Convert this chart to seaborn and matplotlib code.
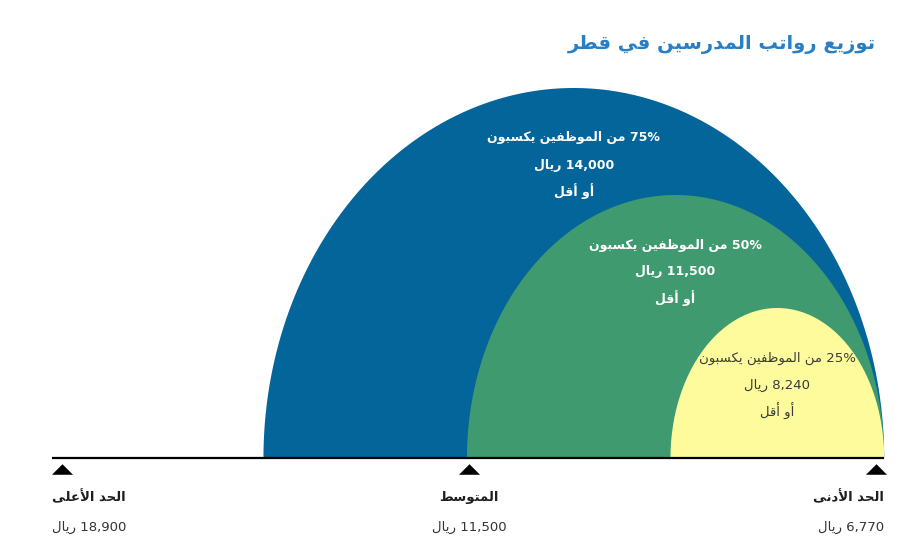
import numpy as np
import pandas as pd
import seaborn as sns
import matplotlib.pyplot as plt

# chart data
title = 'توزيع رواتب المدرسين في قطر'
stat_names = ['max', 'q3', 'median', 'q1', 'min']      # order along the axis, left to right
tick_stats = ['max', 'median', 'min']
tick_labels = ['الحد الأعلى', 'المتوسط', 'الحد الأدنى']
tick_values = [18900, 11500, 6770]
band_stats = ['q3', 'median', 'q1']
band_pcts = [75, 50, 25]
band_values = [14000, 11500, 8240]
band_colors = ['#03659a', '#3f9a6f', '#fdfb9c']
band_text_colors = ['white', 'white', '#3a3a3a']
band_heights = [370, 263, 150]   # px, drawing only

# --- minimal arabic shaping (no bidi lib available) ---
FORMS = {
    'ا': ('\uFE8D', '\uFE8E', None, None), 'أ': ('\uFE83', '\uFE84', None, None),
    'ب': ('\uFE8F', '\uFE90', '\uFE91', '\uFE92'), 'ت': ('\uFE95', '\uFE96', '\uFE97', '\uFE98'),
    'ح': ('\uFEA1', '\uFEA2', '\uFEA3', '\uFEA4'), 'د': ('\uFEA9', '\uFEAA', None, None),
    'ر': ('\uFEAD', '\uFEAE', None, None), 'ز': ('\uFEAF', '\uFEB0', None, None),
    'س': ('\uFEB1', '\uFEB2', '\uFEB3', '\uFEB4'), 'ط': ('\uFEC1', '\uFEC2', '\uFEC3', '\uFEC4'),
    'ظ': ('\uFEC5', '\uFEC6', '\uFEC7', '\uFEC8'), 'ع': ('\uFEC9', '\uFECA', '\uFECB', '\uFECC'),
    'ف': ('\uFED1', '\uFED2', '\uFED3', '\uFED4'), 'ق': ('\uFED5', '\uFED6', '\uFED7', '\uFED8'),
    'ك': ('\uFED9', '\uFEDA', '\uFEDB', '\uFEDC'), 'ل': ('\uFEDD', '\uFEDE', '\uFEDF', '\uFEE0'),
    'م': ('\uFEE1', '\uFEE2', '\uFEE3', '\uFEE4'), 'ن': ('\uFEE5', '\uFEE6', '\uFEE7', '\uFEE8'),
    'و': ('\uFEED', '\uFEEE', None, None), 'ى': ('\uFEEF', '\uFEF0', None, None),
    'ي': ('\uFEF1', '\uFEF2', '\uFEF3', '\uFEF4'),
}
LAMALEF = {'ا': ('\uFEFB', '\uFEFC'), 'أ': ('\uFEF7', '\uFEF8')}


def shape(word):
    out = []
    i = 0
    n = len(word)
    while i < n:
        c = word[i]
        if c not in FORMS:
            out.append(c)
            i += 1
            continue
        prev = word[i - 1] if i > 0 else None
        joins_prev = prev in FORMS and FORMS[prev][2] is not None
        if c == 'ل' and i + 1 < n and word[i + 1] in LAMALEF:
            iso, fin = LAMALEF[word[i + 1]]
            out.append(fin if joins_prev else iso)
            i += 2
            continue
        nxt = word[i + 1] if i + 1 < n else None
        iso, fin, ini, med = FORMS[c]
        joins_next = ini is not None and nxt in FORMS
        if joins_prev and joins_next:
            out.append(med)
        elif joins_prev:
            out.append(fin)
        elif joins_next:
            out.append(ini)
        else:
            out.append(iso)
        i += 1
    return ''.join(out)


def ar(text):
    vis = []
    for w in reversed(text.split(' ')):
        if any(ch in FORMS for ch in w):
            vis.append(shape(w)[::-1])
        else:
            vis.append(w)
    return ' '.join(vis)


pos = {s: i for i, s in enumerate(stat_names)}
right_end = pos['min'] + 0.04

sns.set_theme(style='white')
plt.rcParams['font.family'] = ['DejaVu Sans']

fig = plt.figure(figsize=(9.01, 5.6), dpi=100)
ax = fig.add_axes([0, 0, 1, 1])

# pixel-ish mapping: level 0 at x=62px, level 4 at x=876px; baseline at 102px from bottom
px = 203.5
ax.set_xlim(-62 / px, (901 - 62) / px)
ax.set_ylim(-102, 458)
ax.axis('off')

bands = pd.DataFrame({'stat': band_stats, 'pct': band_pcts, 'value': band_values,
                      'color': band_colors, 'tcolor': band_text_colors, 'h': band_heights})
bands['left'] = bands['stat'].map(pos) - 0.01

for _, b in bands.iterrows():
    cx = (b['left'] + right_end) / 2
    a = (right_end - b['left']) / 2
    t = np.linspace(0, np.pi, 300)
    ax.fill(cx + a * np.cos(t), b['h'] * np.sin(t), color=b['color'], lw=0, zorder=2)
    ty = b['h'] - 50
    wt = 'bold' if b['tcolor'] == 'white' else 'normal'
    fs = 9 if b['tcolor'] == 'white' else 9.5
    ax.text(cx, ty, ar(f"{b['pct']}% من الموظفين يكسبون"), ha='center', va='center',
            color=b['tcolor'], fontsize=fs, fontweight=wt, zorder=3)
    ax.text(cx, ty - 27, ar(f"{b['value']:,} ريال"), ha='center', va='center',
            color=b['tcolor'], fontsize=fs, fontweight=wt, zorder=3)
    ax.text(cx, ty - 53, ar('أو أقل'), ha='center', va='center',
            color=b['tcolor'], fontsize=fs, fontweight=wt, zorder=3)

# baseline
ax.plot([-10 / px, right_end], [0, 0], color='black', lw=1.6, zorder=4, solid_capstyle='butt')

ticks = pd.DataFrame({'stat': tick_stats, 'label': tick_labels, 'value': tick_values})
ticks['x'] = ticks['stat'].map(pos)
ticks['y'] = -11
flat_tri = [(-1, -0.5), (1, -0.5), (0, 0.5), (-1, -0.5)]
sns.scatterplot(data=ticks, x='x', y='y', marker=flat_tri, s=230, color='black', edgecolor='black',
                linewidth=0, ax=ax, zorder=5, legend=False)
ax.set_xlabel('')
ax.set_ylabel('')
ax.axis('off')

aligns = ['left', 'center', 'right']
offs = [-10 / px, 0, 8 / px]
for (_, tk), ha, off in zip(ticks.iterrows(), aligns, offs):
    ax.text(tk['x'] + off, -39, ar(tk['label']), ha=ha, va='center', fontsize=9.5,
            fontweight='bold', color='#1e1e1e')
    ax.text(tk['x'] + off, -69, ar(f"{tk['value']:,} ريال"), ha=ha, va='center', fontsize=9.5,
            color='#333333')

ax.text(right_end - 8 / px, 413, ar(title), ha='right', va='center', fontsize=14,
        fontweight='bold', color='#2a7fc2')

fig.savefig('out.png', dpi=100)
